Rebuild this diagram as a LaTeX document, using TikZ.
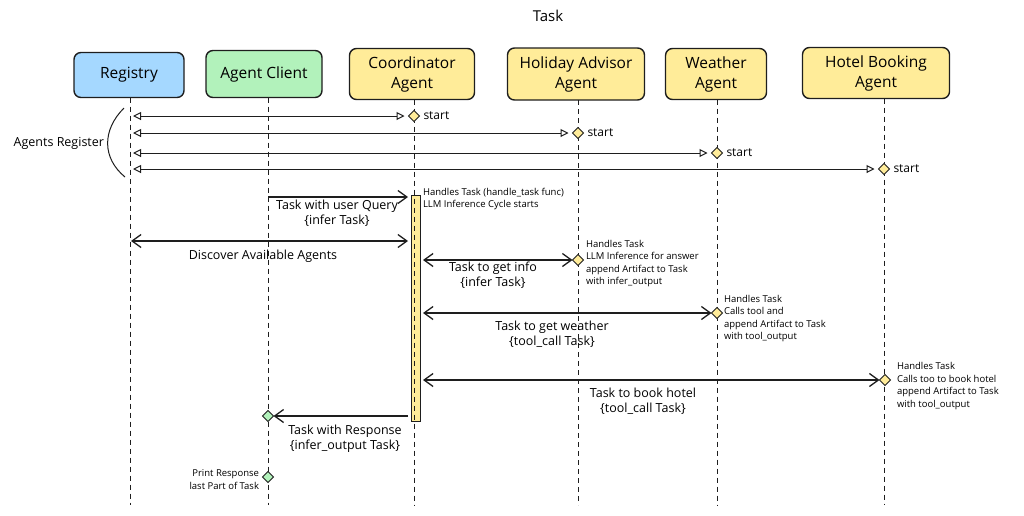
\documentclass[tikz,border=0pt]{standalone}
\usepackage{fontspec}
\setmainfont{Open Sans}
\usetikzlibrary{arrows.meta,shapes.geometric}
\definecolor{c1E1E1E}{RGB}{30,30,30}
\definecolor{cA5D8FF}{RGB}{165,216,255}
\definecolor{cB2F2BB}{RGB}{178,242,187}
\definecolor{cFFEC99}{RGB}{255,236,153}

\begin{document}
\begin{tikzpicture}[y=1pt,x=1pt,yscale=-1, inner sep=0pt, outer sep=0pt,
    hdr/.style={draw=c1E1E1E,line width=1.4pt,rounded corners=7pt,align=center,
      font=\fontsize{15.5}{20}\selectfont},
    life/.style={draw=c1E1E1E,line width=0.9pt,dash pattern=on 5pt off 4pt},
    dmd/.style={diamond,draw=c1E1E1E,line width=0.9pt,fill=cFFEC99,minimum size=11pt},
    gdmd/.style={dmd,fill=cB2F2BB},
    regline/.style={draw=c1E1E1E,line width=1pt,shorten <=3pt,shorten >=4pt,
      {Triangle[open,length=8pt,width=8pt]}-{Triangle[open,length=8pt,width=8pt]}},
    msg/.style={draw=c1E1E1E,line width=1.3pt,-{Straight Barb[length=9pt,width=13pt]}},
    both/.style={msg,{Straight Barb[length=9pt,width=13pt]}-{Straight Barb[length=9pt,width=13pt]}},
    lbl/.style={align=center,font=\fontsize{12.5}{15}\selectfont},
    note/.style={align=left,anchor=west,font=\fontsize{9.5}{12.5}\selectfont},
    strt/.style={label={[font=\fontsize{12}{14}\selectfont,label distance=4pt]east:start}}]
  \useasboundingbox (0,0) rectangle (1024,515);

  \node[font=\fontsize{15}{18}\selectfont] (title) at (548,16) {Task};
  \node[hdr,fill=cA5D8FF,minimum width=110pt,minimum height=45pt] (reg) at (129,75) {Registry};
  \node[hdr,fill=cB2F2BB,minimum width=116pt,minimum height=47pt] (cli) at (264,74) {Agent Client};
  \node[hdr,fill=cFFEC99,minimum width=125pt,minimum height=51pt] (coo) at (412,74) {Coordinator\\Agent};
  \node[hdr,fill=cFFEC99,minimum width=137pt,minimum height=52pt] (hol) at (576,74) {Holiday Advisor\\Agent};
  \node[hdr,fill=cFFEC99,minimum width=101pt,minimum height=51pt] (wea) at (716,74) {Weather\\Agent};
  \node[hdr,fill=cFFEC99,minimum width=147pt,minimum height=51pt] (hot) at (876,73) {Hotel Booking\\Agent};

  \coordinate (reg-b) at (130,505);
  \coordinate (cli-b) at (268,505);
  \coordinate (coo-b) at (414,505);
  \coordinate (hol-b) at (578,505);
  \coordinate (wea-b) at (717,505);
  \coordinate (hot-b) at (884,505);

  \node[draw=c1E1E1E,line width=1pt,fill=cFFEC99,minimum width=9pt,minimum height=226pt] (act) at (415.5,308) {};

  \foreach \n in {reg,cli,coo,hol,wea,hot}
    \path[life] (\n.south -| \n-b) -- (\n-b);

  % registration
  \node[dmd,strt] (s1) at (414,116) {};
  \node[dmd,strt] (s2) at (578,133) {};
  \node[dmd,strt] (s3) at (717,153) {};
  \node[dmd,strt] (s4) at (884,169) {};
  \foreach \s in {s1,s2,s3,s4}
    \path[regline] (reg-b |- \s) -- (\s.west);
  \path[draw=c1E1E1E,line width=1pt] (124,108) .. controls (102,130) and (102,158) .. (125,177);
  \node[lbl,anchor=east] (agreg) at (104,143) {Agents Register};

  % task flow
  \coordinate (m1) at (0,197);
  \coordinate (m2) at (0,241);
  \path[msg,shorten >=3pt] (cli-b |- m1) -- (act.west |- m1);
  \node[lbl] (m1t) at (337,213) {Task with user Query\\\{infer Task\}};
  \node[note] (n0) at (423,199) {Handles Task (handle\_task func)\\LLM Inference Cycle starts};

  \path[both,shorten >=3pt,shorten <=1pt] (reg-b |- m2) -- (act.west |- m2);
  \node[lbl] (m2t) at (263,256) {Discover Available Agents};

  \node[dmd] (h1) at (578,260) {};
  \path[both,shorten <=3pt] (act.east |- h1) -- (h1.west);
  \node[lbl] (m3t) at (493,275.5) {Task to get info\\\{infer Task\}};
  \node[note] (n1) at (586,263.5) {Handles Task\\LLM Inference for answer\\append Artifact to Task\\with infer\_output};

  \node[dmd] (w1) at (717,313) {};
  \path[both,shorten <=3pt] (act.east |- w1) -- (w1.west);
  \node[lbl] (m4t) at (552,334.5) {Task to get weather\\\{tool\_call Task\}};
  \node[note] (n2) at (724,318.5) {Handles Task\\Calls tool and\\append Artifact to Task\\with tool\_output};

  \node[dmd] (t1) at (885,380) {};
  \path[both,shorten <=3pt] (act.east |- t1) -- (t1.west);
  \node[lbl] (m5t) at (643,401.5) {Task to book hotel\\\{tool\_call Task\}};
  \node[note] (n3) at (897,386) {Handles Task\\Calls too to book hotel\\append Artifact to Task\\with tool\_output};

  \node[gdmd] (c1) at (268,416) {};
  \path[msg,shorten <=3pt] (act.west |- c1) -- (c1.east);
  \node[lbl] (m6t) at (345,438.5) {Task with Response\\\{infer\_output Task\}};

  \node[gdmd] (c2) at (268,477) {};
  \node[note,anchor=east,align=right] (n4) at (259,479.5) {Print Response\\last Part of Task};
\end{tikzpicture}
\end{document}
